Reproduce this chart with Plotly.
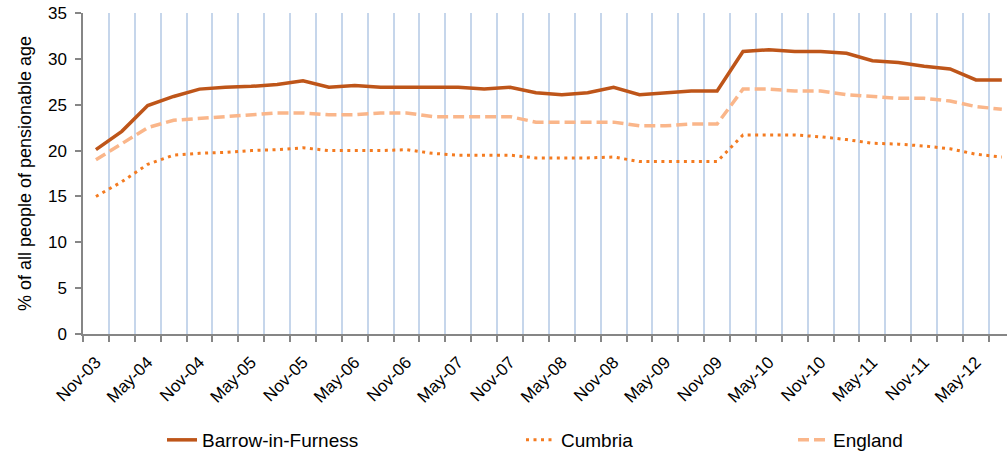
import plotly.graph_objects as go

categories = ["Nov-03", "Feb-04", "May-04", "Aug-04", "Nov-04", "Feb-05", "May-05", "Aug-05",
              "Nov-05", "Feb-06", "May-06", "Aug-06", "Nov-06", "Feb-07", "May-07", "Aug-07",
              "Nov-07", "Feb-08", "May-08", "Aug-08", "Nov-08", "Feb-09", "May-09", "Aug-09",
              "Nov-09", "Feb-10", "May-10", "Aug-10", "Nov-10", "Feb-11", "May-11", "Aug-11",
              "Nov-11", "Feb-12", "May-12", "Aug-12"]

tick_labels = ["Nov-03", "", "May-04", "", "Nov-04", "", "May-05", "",
               "Nov-05", "", "May-06", "", "Nov-06", "", "May-07", "",
               "Nov-07", "", "May-08", "", "Nov-08", "", "May-09", "",
               "Nov-09", "", "May-10", "", "Nov-10", "", "May-11", "",
               "Nov-11", "", "May-12", ""]

barrow = [20.1, 22.1, 24.9, 25.9, 26.7, 26.9, 27.0, 27.2, 27.6, 26.9, 27.1, 26.9,
          26.9, 26.9, 26.9, 26.7, 26.9, 26.3, 26.1, 26.3, 26.9, 26.1, 26.3, 26.5,
          26.5, 30.8, 31.0, 30.8, 30.8, 30.6, 29.8, 29.6, 29.2, 28.9, 27.7, 27.7]

cumbria = [15.0, 16.6, 18.5, 19.5, 19.7, 19.8, 20.0, 20.1, 20.3, 20.0, 20.0, 20.0,
           20.1, 19.7, 19.5, 19.5, 19.5, 19.2, 19.2, 19.2, 19.3, 18.8, 18.8, 18.8,
           18.8, 21.7, 21.7, 21.7, 21.5, 21.2, 20.8, 20.7, 20.5, 20.2, 19.6, 19.3]

england = [19.0, 20.7, 22.5, 23.3, 23.5, 23.7, 23.9, 24.1, 24.1, 23.9, 23.9, 24.1,
           24.1, 23.7, 23.7, 23.7, 23.7, 23.1, 23.1, 23.1, 23.1, 22.7, 22.7, 22.9,
           22.9, 26.7, 26.7, 26.5, 26.5, 26.1, 25.9, 25.7, 25.7, 25.4, 24.8, 24.5]

y_ticks = [0, 5, 10, 15, 20, 25, 30, 35]

FONT = "Liberation Sans, Arial, sans-serif"
GREY = "#868686"

fig = go.Figure()
fig.add_trace(go.Scatter(x=categories, y=barrow, mode="lines", name="Barrow-in-Furness",
                         line=dict(color="#BE5519", width=3.5), legend="legend"))
fig.add_trace(go.Scatter(x=categories, y=cumbria, mode="lines", name="Cumbria",
                         line=dict(color="#F47B20", width=3, dash="3px,4.5px"), legend="legend2"))
fig.add_trace(go.Scatter(x=categories, y=england, mode="lines", name="England",
                         line=dict(color="#FAB68A", width=3.5, dash="11px,5px"), legend="legend3"))

legend_common = dict(orientation="h", xref="container", yref="container", yanchor="middle",
                     xanchor="left", y=0.033, font=dict(family=FONT, size=19, color="#000000"),
                     bgcolor="rgba(0,0,0,0)", borderwidth=0)

fig.update_layout(
    width=1007, height=455, autosize=False,
    margin=dict(l=83, r=0, t=13, b=121),
    paper_bgcolor="white", plot_bgcolor="white",
    font=dict(family=FONT, color="#000000"),
    showlegend=True,
    legend=dict(x=162 / 1007, **legend_common),
    legend2=dict(x=521 / 1007, **legend_common),
    legend3=dict(x=793 / 1007, **legend_common),
    xaxis=dict(
        type="category",
        categoryorder="array", categoryarray=categories,
        tickmode="array", tickvals=categories, ticktext=tick_labels,
        tickson="boundaries",
        range=[-0.5, 35.2],
        showgrid=True, gridcolor="#C6D6EB", gridwidth=2,
        showline=True, linecolor=GREY, linewidth=1.5,
        ticks="outside", ticklen=6, tickcolor=GREY, tickwidth=1.5,
        tickangle=-45, ticklabelstandoff=10,
        tickfont=dict(family=FONT, size=17, color="#000000"),
        zeroline=False,
    ),
    yaxis=dict(
        range=[0, 35], tickmode="array", tickvals=y_ticks,
        showgrid=False, zeroline=False,
        showline=True, linecolor=GREY, linewidth=1.5,
        ticks="outside", ticklen=6, tickcolor=GREY, tickwidth=1.5,
        ticklabelstandoff=5,
        tickfont=dict(family=FONT, size=17, color="#000000"),
        title=dict(text="% of all people of pensionable age",
                   font=dict(family=FONT, size=18, color="#000000"), standoff=12),
    ),
)

fig.write_html("out.html", config={"displayModeBar": False},
               post_script="document.body.style.margin='0';document.body.style.overflow='hidden';")
